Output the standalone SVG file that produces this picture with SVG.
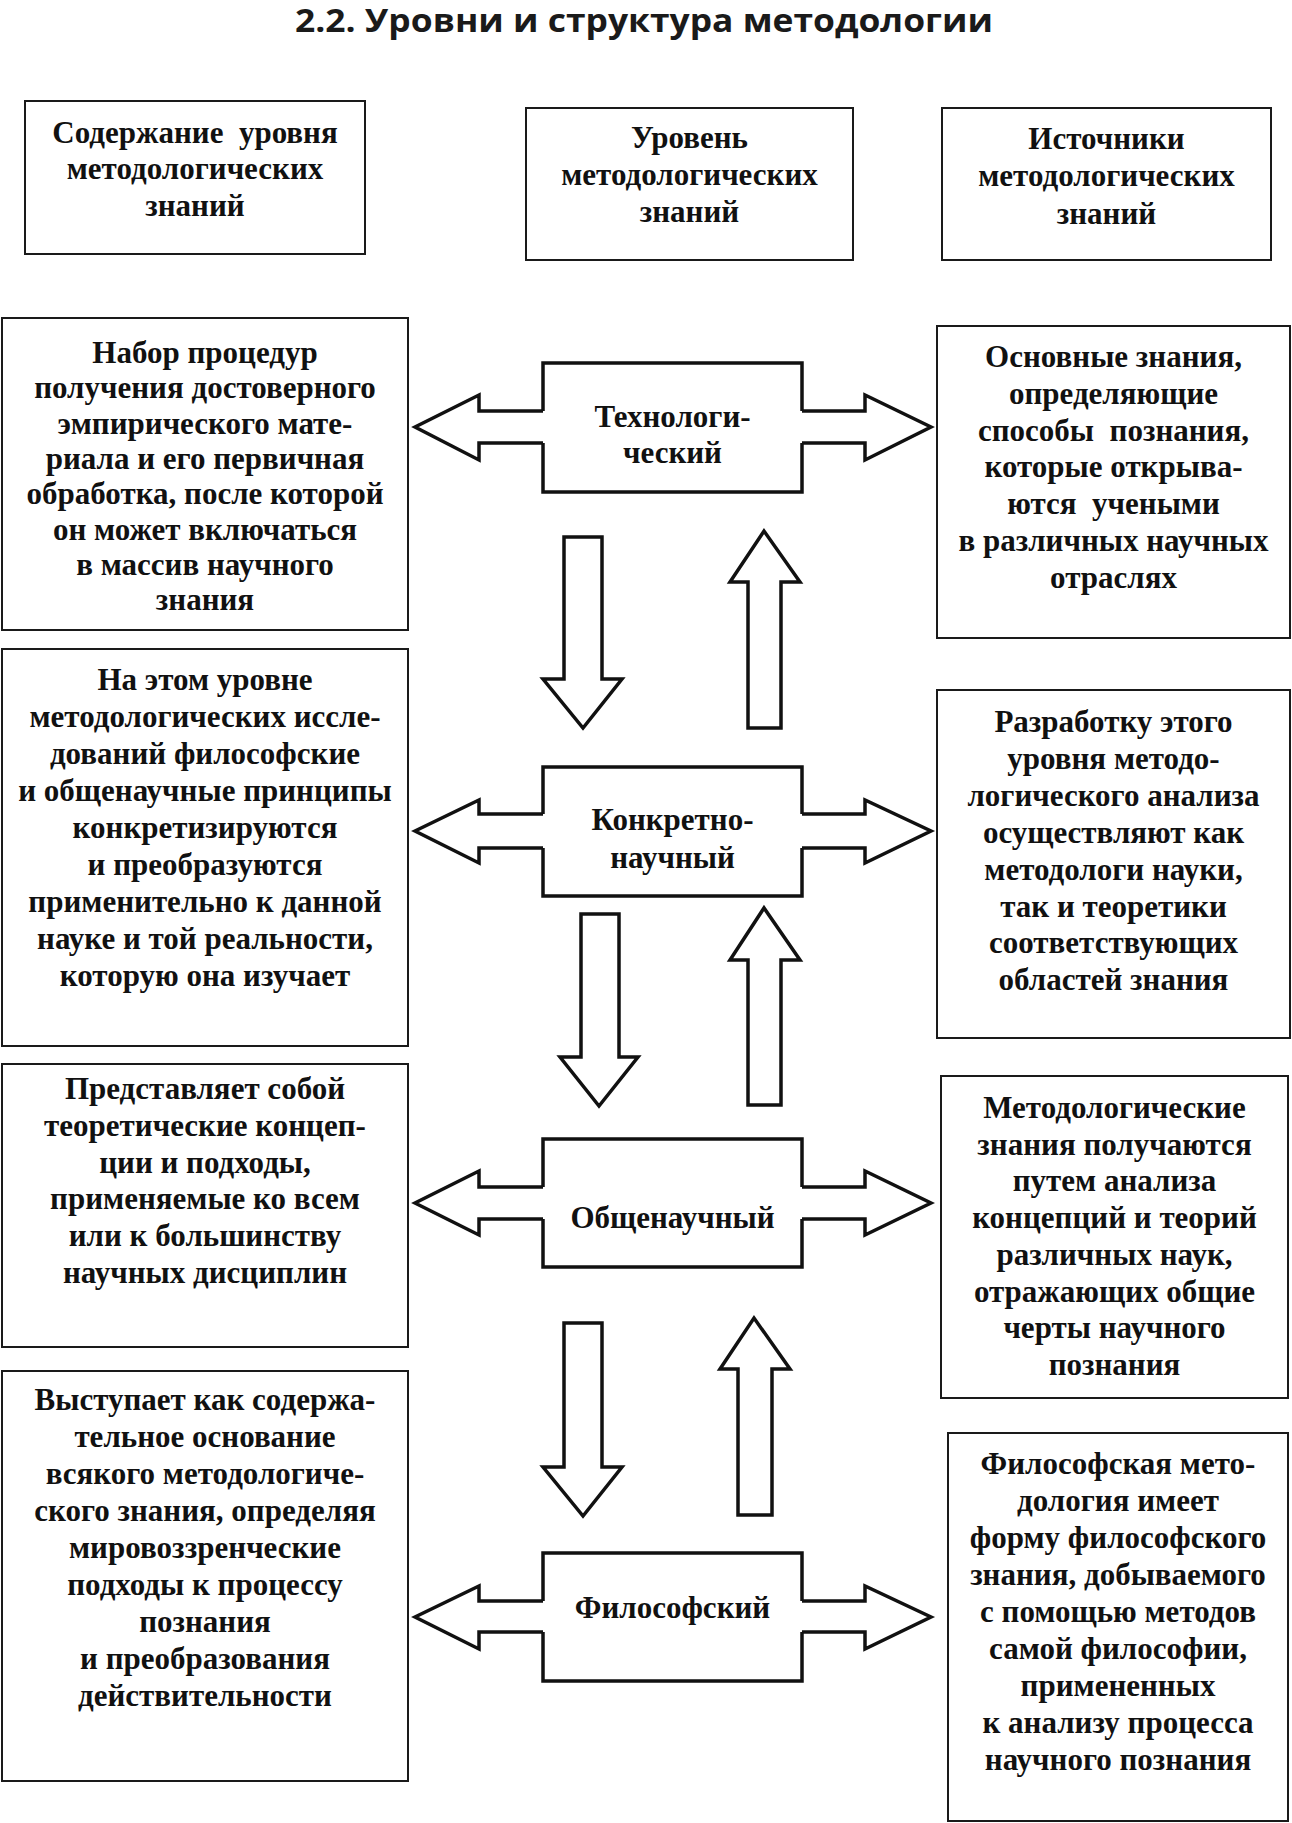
<svg xmlns="http://www.w3.org/2000/svg" width="1292" height="1823" viewBox="0 0 1292 1823">
<style>
.box{fill:#fff;stroke:#1a1a1a;stroke-width:2}
.blk{fill:none;stroke:#111;stroke-width:3.5;stroke-linejoin:miter;stroke-miterlimit:10}
.arr{fill:#fff;stroke:#111;stroke-width:3.5;stroke-linejoin:miter;stroke-miterlimit:10}
.t{font-family:'Liberation Serif',serif;font-weight:bold;font-size:31px;fill:#111;text-anchor:middle;white-space:pre}
.title{font-family:'Open Sans',sans-serif;font-weight:bold;font-size:33px;fill:#1a1a1a;text-anchor:middle}
</style>
<rect width="1292" height="1823" fill="#fff"/>
<text class="title" x="644" y="32" textLength="698" lengthAdjust="spacingAndGlyphs">2.2. Уровни и структура методологии</text>

<g id="header-content">
<rect class="box" x="25" y="101" width="340" height="153"/>
<text class="t"><tspan x="195" y="143">Содержание  уровня</tspan><tspan x="195" y="179">методологических</tspan><tspan x="195" y="216">знаний</tspan></text>
</g>
<g id="header-level">
<rect class="box" x="526" y="108" width="327" height="152"/>
<text class="t"><tspan x="689.5" y="148">Уровень</tspan><tspan x="689.5" y="185">методологических</tspan><tspan x="689.5" y="222">знаний</tspan></text>
</g>
<g id="header-sources">
<rect class="box" x="942" y="108" width="329" height="152"/>
<text class="t"><tspan x="1106.5" y="149">Источники</tspan><tspan x="1106.5" y="186">методологических</tspan><tspan x="1106.5" y="224">знаний</tspan></text>
</g>

<g id="content-tech">
<rect class="box" x="2" y="318" width="406" height="312"/>
<text class="t"><tspan x="205" y="363">Набор процедур</tspan><tspan x="205" dy="35.3">получения достоверного</tspan><tspan x="205" dy="35.3">эмпирического мате-</tspan><tspan x="205" dy="35.3">риала и его первичная</tspan><tspan x="205" dy="35.3">обработка, после которой</tspan><tspan x="205" dy="35.3">он может включаться</tspan><tspan x="205" dy="35.3">в массив научного</tspan><tspan x="205" dy="35.3">знания</tspan></text>
</g>
<g id="content-concrete">
<rect class="box" x="2" y="649" width="406" height="397"/>
<text class="t"><tspan x="205" y="690">На этом уровне</tspan><tspan x="205" dy="37">методологических иссле-</tspan><tspan x="205" dy="37">дований философские</tspan><tspan x="205" dy="37">и общенаучные принципы</tspan><tspan x="205" dy="37">конкретизируются</tspan><tspan x="205" dy="37">и преобразуются</tspan><tspan x="205" dy="37">применительно к данной</tspan><tspan x="205" dy="37">науке и той реальности,</tspan><tspan x="205" dy="37">которую она изучает</tspan></text>
</g>
<g id="content-general">
<rect class="box" x="2" y="1064" width="406" height="283"/>
<text class="t"><tspan x="205" y="1099">Представляет собой</tspan><tspan x="205" dy="36.8">теоретические концеп-</tspan><tspan x="205" dy="36.8">ции и подходы,</tspan><tspan x="205" dy="36.8">применяемые ко всем</tspan><tspan x="205" dy="36.8">или к большинству</tspan><tspan x="205" dy="36.8">научных дисциплин</tspan></text>
</g>
<g id="content-philos">
<rect class="box" x="2" y="1371" width="406" height="410"/>
<text class="t"><tspan x="205" y="1410">Выступает как содержа-</tspan><tspan x="205" dy="37">тельное основание</tspan><tspan x="205" dy="37">всякого методологиче-</tspan><tspan x="205" dy="37">ского знания, определяя</tspan><tspan x="205" dy="37">мировоззренческие</tspan><tspan x="205" dy="37">подходы к процессу</tspan><tspan x="205" dy="37">познания</tspan><tspan x="205" dy="37">и преобразования</tspan><tspan x="205" dy="37">действительности</tspan></text>
</g>

<g id="source-tech">
<rect class="box" x="937" y="326" width="353" height="312"/>
<text class="t"><tspan x="1113.5" y="367">Основные знания,</tspan><tspan x="1113.5" dy="36.8">определяющие</tspan><tspan x="1113.5" dy="36.8">способы  познания,</tspan><tspan x="1113.5" dy="36.8">которые открыва-</tspan><tspan x="1113.5" dy="36.8">ются  учеными</tspan><tspan x="1113.5" dy="36.8">в различных научных</tspan><tspan x="1113.5" dy="36.8">отраслях</tspan></text>
</g>
<g id="source-concrete">
<rect class="box" x="937" y="690" width="353" height="348"/>
<text class="t"><tspan x="1113.5" y="732">Разработку этого</tspan><tspan x="1113.5" dy="36.9">уровня методо-</tspan><tspan x="1113.5" dy="36.9">логического анализа</tspan><tspan x="1113.5" dy="36.9">осуществляют как</tspan><tspan x="1113.5" dy="36.9">методологи науки,</tspan><tspan x="1113.5" dy="36.9">так и теоретики</tspan><tspan x="1113.5" dy="36.9">соответствующих</tspan><tspan x="1113.5" dy="36.9">областей знания</tspan></text>
</g>
<g id="source-general">
<rect class="box" x="941" y="1076" width="347" height="322"/>
<text class="t"><tspan x="1114.5" y="1118">Методологические</tspan><tspan x="1114.5" dy="36.7">знания получаются</tspan><tspan x="1114.5" dy="36.7">путем анализа</tspan><tspan x="1114.5" dy="36.7">концепций и теорий</tspan><tspan x="1114.5" dy="36.7">различных наук,</tspan><tspan x="1114.5" dy="36.7">отражающих общие</tspan><tspan x="1114.5" dy="36.7">черты научного</tspan><tspan x="1114.5" dy="36.7">познания</tspan></text>
</g>
<g id="source-philos">
<rect class="box" x="948" y="1433" width="340" height="388"/>
<text class="t"><tspan x="1118" y="1474">Философская мето-</tspan><tspan x="1118" dy="37">дология имеет</tspan><tspan x="1118" dy="37">форму философского</tspan><tspan x="1118" dy="37">знания, добываемого</tspan><tspan x="1118" dy="37">с помощью методов</tspan><tspan x="1118" dy="37">самой философии,</tspan><tspan x="1118" dy="37">примененных</tspan><tspan x="1118" dy="37">к анализу процесса</tspan><tspan x="1118" dy="37">научного познания</tspan></text>
</g>

<g id="level-tech">
<path class="blk" d="M543,411 V363 H802 V411 M802,443 V492 H543 V443"/>
<text class="t"><tspan x="672.5" y="427">Технологи-</tspan><tspan x="672.5" y="463">ческий</tspan></text>
</g>
<g id="level-concrete">
<path class="blk" d="M543,814 V767 H802 V814 M802,848 V896 H543 V848"/>
<text class="t"><tspan x="672.5" y="830">Конкретно-</tspan><tspan x="672.5" y="868">научный</tspan></text>
</g>
<g id="level-general">
<path class="blk" d="M543,1187 V1139 H802 V1187 M802,1219 V1267 H543 V1219"/>
<text class="t" x="672.5" y="1228">Общенаучный</text>
</g>
<g id="level-philos">
<path class="blk" d="M543,1601 V1553 H802 V1601 M802,1632 V1681 H543 V1632"/>
<text class="t" x="672.5" y="1618">Философский</text>
</g>

<g id="connectors">
<path class="blk" d="M543,411 H479 V395 L415,427 L479,460 V443 H543"/>
<path class="blk" d="M802,411 H865 V395 L931,427 L865,460 V443 H802"/>
<path class="blk" d="M543,814 H479 V800 L415,831 L479,863 V848 H543"/>
<path class="blk" d="M802,814 H865 V800 L931,831 L865,863 V848 H802"/>
<path class="blk" d="M543,1187 H479 V1171 L415,1203 L479,1235 V1219 H543"/>
<path class="blk" d="M802,1187 H865 V1171 L931,1203 L865,1235 V1219 H802"/>
<path class="blk" d="M543,1601 H479 V1586 L415,1617 L479,1649 V1632 H543"/>
<path class="blk" d="M802,1601 H865 V1586 L931,1617 L865,1649 V1632 H802"/>

<polygon class="arr" points="564,537 602,537 602,679 622,679 583,728 543,679 564,679"/>
<polygon class="arr" points="748,728 781,728 781,582 800,582 764,531 730,582 748,582"/>
<polygon class="arr" points="581,914 619,914 619,1057 638,1057 599,1106 560,1057 581,1057"/>
<polygon class="arr" points="748,1105 781,1105 781,960 800,960 764,908 730,960 748,960"/>
<polygon class="arr" points="564,1323 602,1323 602,1467 622,1467 583,1516 543,1467 564,1467"/>
<polygon class="arr" points="738,1515 772,1515 772,1369 790,1369 754,1318 720,1369 738,1369"/>
</g>
</svg>
